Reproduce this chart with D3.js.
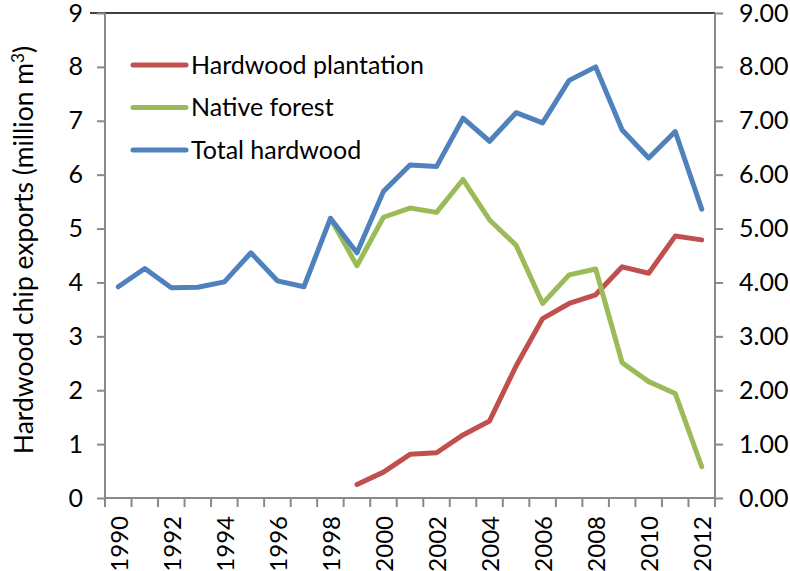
<!DOCTYPE html>
<html>
<head>
<meta charset="utf-8">
<script src="https://cdnjs.cloudflare.com/ajax/libs/d3/7.8.5/d3.min.js"></script>
<style>
  html, body { margin: 0; padding: 0; background: #fff; }
  svg { display: block; font-family: Lato, "Open Sans", sans-serif; }
</style>
</head>
<body>
<svg id="chart" width="790" height="571"></svg>
<script>
// Hardwood chip exports, million m3, by year
const years = d3.range(1990, 2013);
const plantation = [null, null, null, null, null, null, null, null, null,
  0.25, 0.48, 0.81, 0.84, 1.17, 1.43, 2.45, 3.33, 3.61, 3.77, 4.29, 4.17, 4.86, 4.79];
const nativeForest = [null, null, null, null, null, null, null, null, 5.19,
  4.31, 5.21, 5.38, 5.30, 5.91, 5.16, 4.69, 3.61, 4.14, 4.25, 2.51, 2.16, 1.94, 0.58];
const totalHardwood = [3.92, 4.26, 3.90, 3.91, 4.01, 4.55, 4.03, 3.92, 5.19,
  4.55, 5.69, 6.18, 6.15, 7.05, 6.62, 7.15, 6.96, 7.75, 8.00, 6.83, 6.31, 6.80, 5.36];
const seriesNames = ["Hardwood plantation", "Native forest", "Total hardwood"];
const seriesColors = ["#C0504D", "#9BBB59", "#4F81BD"];
const leftTicks = d3.range(0, 10);
const yearLabels = years.filter(y => y % 2 === 0);

const series = [plantation, nativeForest, totalHardwood].map((vals, i) => ({
  name: seriesNames[i],
  color: seriesColors[i],
  points: years.map((yr, j) => ({ year: yr, value: vals[j] }))
}));

const svg = d3.select("#chart");
const plotLeft = 105, plotRight = 715, plotTop = 13, plotBottom = 498;
const axisColor = "#898989";
const fontSize = 25;

const x = d3.scaleBand().domain(years).range([plotLeft, plotRight]).padding(0);
const y = d3.scaleLinear().domain([0, 9]).range([plotBottom, plotTop]);

// Plot frame: black top edge, grey axes
svg.append("line").attr("x1", 90).attr("x2", plotRight).attr("y1", plotTop).attr("y2", plotTop)
  .attr("stroke", "#000").attr("stroke-width", 1.5);

// Left axis
const gLeft = svg.append("g").attr("transform", `translate(${plotLeft},0)`)
  .call(d3.axisLeft(y).tickValues(leftTicks).tickSize(8).tickPadding(14).tickFormat(d3.format("d")));
// Right axis
const gRight = svg.append("g").attr("transform", `translate(${plotRight},0)`)
  .call(d3.axisRight(y).tickValues(leftTicks).tickSize(8).tickPadding(16).tickFormat(d3.format(".2f")));
// Bottom axis: ticks on band boundaries, labels every second year
const boundaries = years.map(yr => x(yr)).concat([plotRight]);
const gBottom = svg.append("g").attr("transform", `translate(0,${plotBottom})`);
gBottom.append("line").attr("x1", plotLeft).attr("x2", plotRight).attr("y1", 0).attr("y2", 0)
  .attr("stroke", axisColor).attr("stroke-width", 2);
gBottom.selectAll("line.tick").data(boundaries).join("line").attr("class", "tick")
  .attr("x1", d => d).attr("x2", d => d).attr("y1", 0).attr("y2", 9)
  .attr("stroke", axisColor).attr("stroke-width", 2);
gBottom.selectAll("text").data(yearLabels).join("text")
  .attr("transform", d => `translate(${x(d) + x.bandwidth() / 2 + 1},${18}) rotate(-90)`)
  .attr("text-anchor", "end").attr("dy", "0.35em")
  .attr("font-size", 24).attr("fill", "#000").text(d => d);

[gLeft, gRight].forEach(g => {
  g.select(".domain").attr("stroke", axisColor).attr("stroke-width", 2);
  g.selectAll(".tick line").attr("stroke", axisColor).attr("stroke-width", 2);
  g.selectAll(".tick text").attr("font-size", fontSize).attr("font-family", "Lato, sans-serif").attr("fill", "#000");
});
gLeft.select(".domain").attr("d", `M0,${plotTop}V${plotBottom}`);
gRight.select(".domain").attr("d", `M0,${plotTop}V${plotBottom}`);

// Y axis title
const titleSize = 26.5;
const title = svg.append("text")
  .attr("transform", `translate(24,250) rotate(-90)`)
  .attr("text-anchor", "middle").attr("dy", "0.35em")
  .attr("font-size", titleSize).attr("fill", "#000");
title.append("tspan").text("Hardwood chip exports (million m");
title.append("tspan").attr("font-size", titleSize * 0.65).attr("dy", "-0.55em").text("3");
title.append("tspan").attr("dy", "0.35em").text(")");

// Lines
const line = d3.line()
  .defined(d => d.value != null)
  .x(d => x(d.year) + x.bandwidth() / 2)
  .y(d => y(d.value));

svg.append("g").selectAll("path").data(series).join("path")
  .attr("d", d => line(d.points))
  .attr("fill", "none")
  .attr("stroke", d => d.color)
  .attr("stroke-width", 5)
  .attr("stroke-linejoin", "round")
  .attr("stroke-linecap", "round");

// Legend
const legend = svg.append("g").selectAll("g").data(series).join("g")
  .attr("transform", (d, i) => `translate(133,${65 + i * 42.5})`);
legend.append("line").attr("x1", 0).attr("x2", 53).attr("y1", 0).attr("y2", 0)
  .attr("stroke", d => d.color).attr("stroke-width", 5).attr("stroke-linecap", "round");
legend.append("text").attr("x", 58).attr("dy", "0.35em")
  .attr("font-size", fontSize).attr("fill", "#000").text(d => d.name);
</script>
</body>
</html>
